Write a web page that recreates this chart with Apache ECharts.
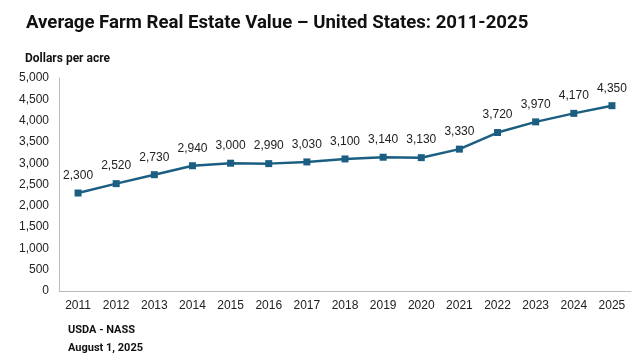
<!DOCTYPE html>
<html style="height: 100%;">
<head>
  <meta charset="utf-8">
  <title>Average Farm Real Estate Value</title>
  <script src="https://cdn.jsdelivr.net/npm/echarts@6/dist/echarts.min.js"></script>
</head>
<body style="height: 100%; margin: 0; background: #fff;">
  <div id="container" style="width: 640px; height: 354px;"></div>
  <script type="text/javascript">
    // years and dollars per acre
    var years = ['2011', '2012', '2013', '2014', '2015', '2016', '2017', '2018',
                 '2019', '2020', '2021', '2022', '2023', '2024', '2025'];
    var values = [2300, 2520, 2730, 2940, 3000, 2990, 3030, 3100,
                  3140, 3130, 3330, 3720, 3970, 4170, 4350];

    var fmt = function (v) { return Number(v).toLocaleString('en-US'); };

    var myChart = echarts.init(document.getElementById('container'));
    var option = {
      animation: false,
      textStyle: { fontFamily: 'Liberation Sans' },
      title: [
        {
          text: 'Average Farm Real Estate Value \u2013 United States: 2011-2025',
          left: 21, top: 9,
          textStyle: { fontFamily: 'Roboto', fontSize: 18.6, fontWeight: 'bold', color: '#111' }
        },
        {
          text: 'Dollars per acre',
          left: 20, top: 48,
          textStyle: { fontFamily: 'Roboto', fontSize: 12, fontWeight: 'bold', color: '#111' }
        },
        {
          text: 'USDA - NASS\nAugust 1, 2025',
          left: 63, top: 316,
          textStyle: { fontFamily: 'Roboto', fontSize: 11, fontWeight: 'bold', color: '#111', lineHeight: 18 }
        }
      ],
      grid: { left: 59, right: 9, top: 78, bottom: 63 },
      xAxis: {
        type: 'category',
        data: years,
        axisLine: { lineStyle: { color: '#bbb' } },
        axisTick: { alignWithLabel: true, length: 4, lineStyle: { color: '#bbb' } },
        axisLabel: { color: '#222', fontSize: 12, margin: 9, interval: 0 }
      },
      yAxis: {
        type: 'value',
        min: 0, max: 5000, interval: 500,
        axisLine: { show: true, lineStyle: { color: '#bbb' } },
        axisTick: { show: false },
        splitLine: { show: false },
        axisLabel: { color: '#222', fontSize: 12, margin: 10, formatter: fmt }
      },
      series: [{
        type: 'line',
        data: values,
        symbol: 'rect',
        symbolSize: 7,
        lineStyle: { color: '#1b5e82', width: 2.5 },
        itemStyle: { color: '#1b5e82' },
        label: {
          show: true, position: 'top', distance: 8,
          color: '#222', fontSize: 12,
          formatter: function (p) { return fmt(p.value); }
        }
      }]
    };
    myChart.setOption(option);
    window.onresize = function () { myChart.resize(); };
  </script>
</body>
</html>
